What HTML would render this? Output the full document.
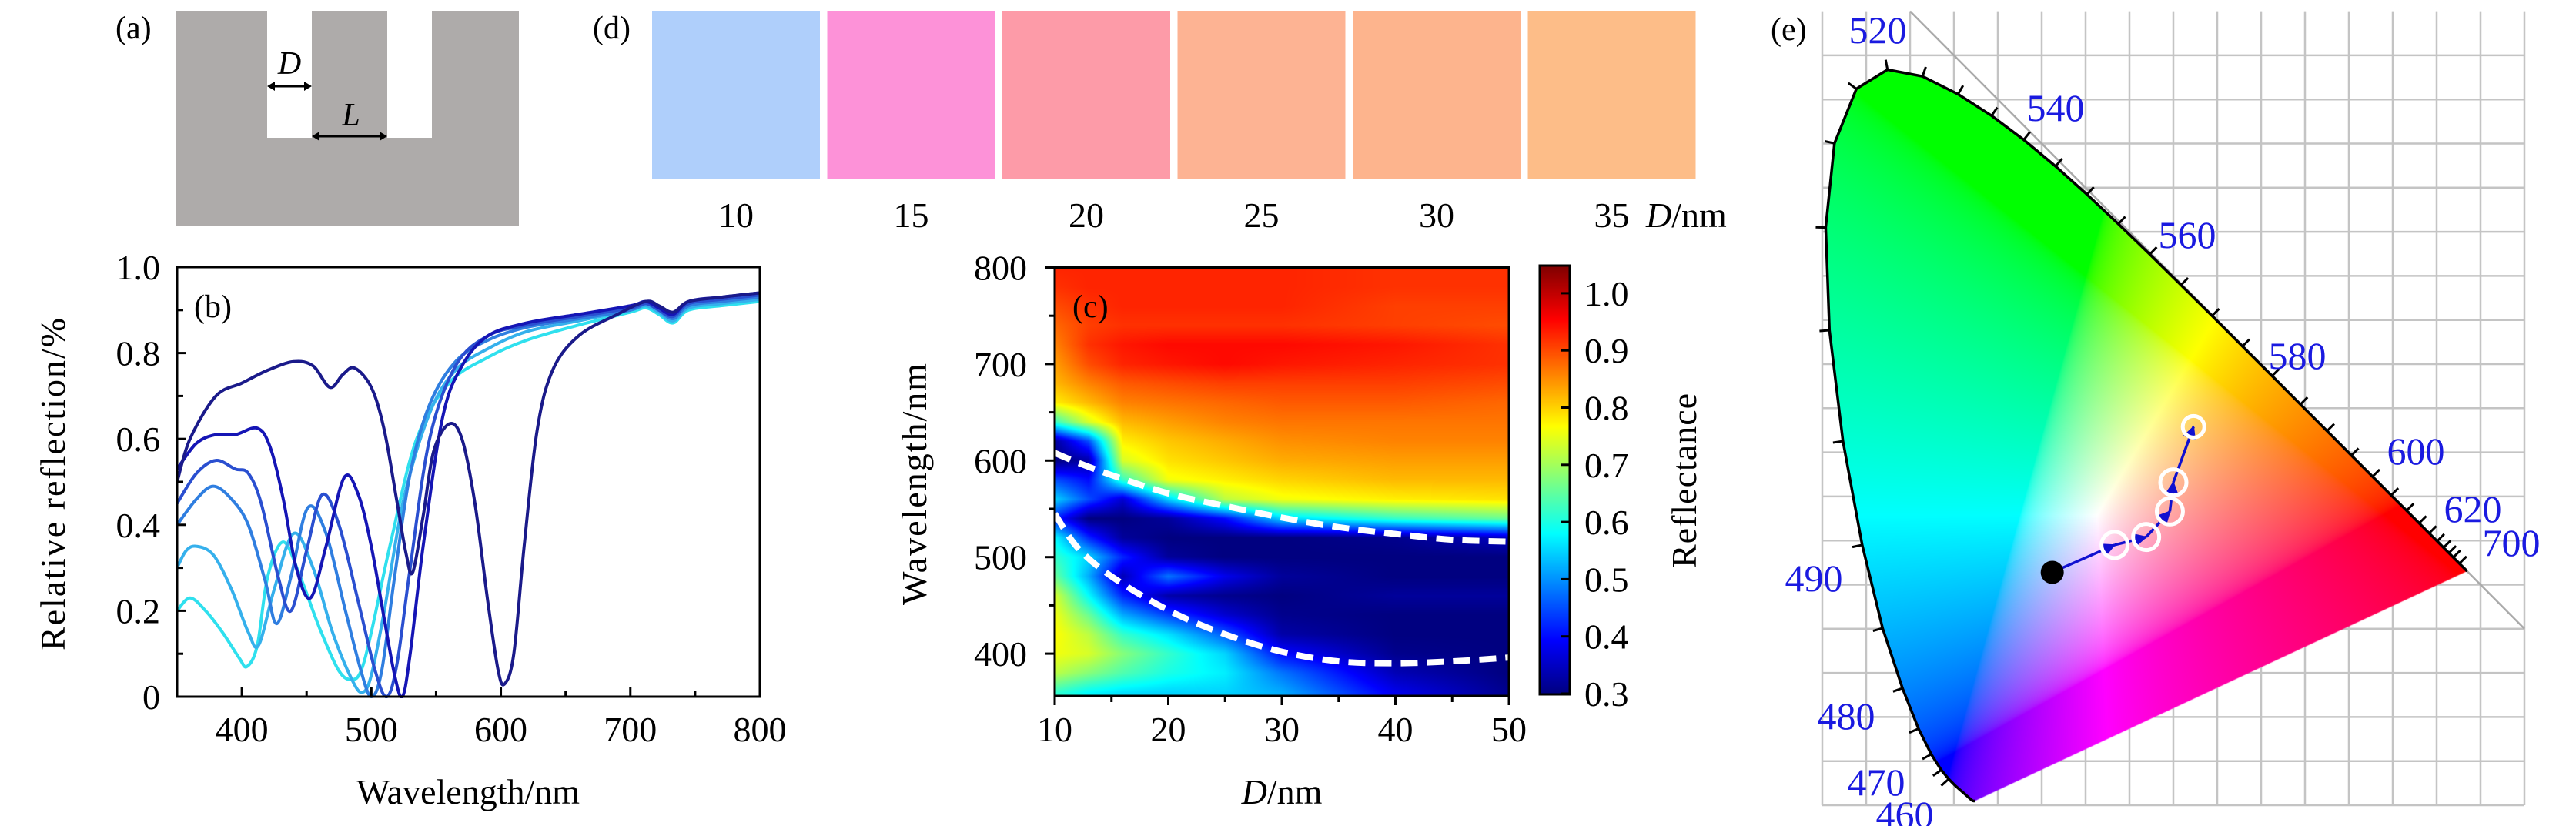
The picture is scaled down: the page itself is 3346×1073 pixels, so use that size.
<!DOCTYPE html>
<html><head><meta charset="utf-8">
<style>
html,body{margin:0;padding:0;background:#fff;}
#wrap{position:relative;width:3346px;height:1073px;overflow:hidden;background:#fff;}
svg,canvas{position:absolute;left:0;top:0;}
text{font-family:"Liberation Serif",serif;fill:#000;}
</style></head>
<body>
<div id="wrap">
<svg id="back" width="3346" height="1073"></svg>
<canvas id="cv" width="3346" height="1073"></canvas>
<svg id="front" width="3346" height="1073">
<defs>
<marker id="arr" viewBox="0 0 10 10" refX="9" refY="5" markerWidth="5" markerHeight="5" orient="auto"><path d="M0,0 L10,5 L0,10 z" fill="#1010d0"/></marker>
</defs>
<g>
<text x="150" y="50" font-size="42">(a)</text>
<path d="M228,14 H347 V179 H405 V14 H503 V179 H561 V14 H674 V293 H228 Z" fill="#aeabaa"/>
<g stroke="#000" stroke-width="3" fill="#000">
<line x1="352" y1="112" x2="400" y2="112"/>
<path d="M347,112 l10,-6 v12 z M405,112 l-10,-6 v12 z" stroke="none"/>
</g>
<text x="376" y="96" font-size="42" font-style="italic" text-anchor="middle">D</text>
<g stroke="#000" stroke-width="3" fill="#000">
<line x1="410" y1="177" x2="498" y2="177"/>
<path d="M405,177 l10,-6 v12 z M503,177 l-10,-6 v12 z" stroke="none"/>
</g>
<text x="456" y="163" font-size="42" font-style="italic" text-anchor="middle">L</text>
</g>
<g id="pd">
<text x="770" y="50" font-size="42">(d)</text>
</g>
<g id="pb"></g>
<g id="pc"></g>
<g id="pe"></g>
</svg>
</div>
<script>
const swatchD = [10,15,20,25,30,35];
const swatchColors = ["#afcffb","#fd92d8","#fd9ba8","#fdb393","#fdb48d","#fdbd88"];

const wlA = [350,360,380,400,420,440,455,468,478,487,500,510,520,527,532,540,548,560,570,580,590,598,603,610,618,628,640,660,690,712,722,733,745,770,800];
const rA  = [.50,.60,.70,.73,.76,.78,.77,.72,.75,.765,.72,.62,.45,.33,.29,.42,.57,.635,.60,.45,.22,.06,.03,.10,.35,.62,.76,.84,.89,.92,.91,.895,.92,.93,.94];
const wlB = [350,365,380,395,412,422,432,442,453,465,479,490,500,510,518,524,530,540,555,570,590,620,660,700,712,722,733,745,770,800];
const rB  = [.53,.59,.61,.61,.625,.58,.46,.30,.23,.35,.51,.47,.35,.18,.05,.0,.10,.35,.65,.77,.84,.87,.89,.91,.92,.905,.89,.92,.93,.94];
const wlC = [350,365,380,395,405,415,428,438,450,462,475,490,503,512,520,530,545,565,590,620,660,700,712,722,733,745,770,800];
const rC  = [.45,.52,.55,.53,.52,.45,.28,.20,.34,.47,.40,.22,.06,.0,.08,.30,.60,.77,.84,.865,.885,.905,.915,.90,.885,.915,.925,.935];
const wlD = [350,365,378,392,405,418,427,438,451,465,480,492,500,508,518,530,545,565,590,620,660,700,712,722,733,745,770,800];
const rD  = [.40,.46,.49,.46,.40,.27,.17,.28,.44,.38,.20,.06,.0,.06,.28,.52,.68,.78,.83,.86,.88,.90,.915,.90,.88,.91,.92,.93];
const wlE = [350,357,365,378,392,405,413,425,440,455,470,485,493,500,510,525,545,565,590,620,660,700,712,722,733,745,770,800];
const rE  = [.30,.34,.35,.33,.25,.15,.12,.25,.38,.30,.15,.04,.01,.05,.20,.46,.66,.76,.81,.85,.875,.90,.91,.895,.875,.905,.915,.925];
const wlF = [350,360,372,385,398,404,412,420,432,445,460,475,485,492,500,515,535,560,590,620,660,700,712,722,733,745,770,800];
const rF  = [.20,.23,.20,.15,.09,.07,.12,.28,.36,.28,.16,.06,.04,.06,.15,.36,.60,.73,.79,.83,.865,.895,.905,.89,.87,.90,.91,.92];
const seriesColors = ["#1a1a8a","#1515b5","#2a4fd0","#2f7ee0","#35b0ec","#2fe0ee"];
const bXTicks = [400,500,600,700,800];
const bYTicks = [0,0.2,0.4,0.6,0.8,1.0];
const bYLabels = ["0","0.2","0.4","0.6","0.8","1.0"];

const hD = [10,13,16,20,25,30,40,50];
const hW = [800,780,760,740,720,700,680,660,640,620,600,580,560,540,520,500,480,460,440,420,400,380,360];
const hV = [
[.93,.93,.93,.93,.93,.93,.92,.92],
[.92,.93,.93,.93,.93,.93,.92,.92],
[.90,.92,.93,.93,.93,.93,.91,.91],
[.88,.91,.92,.92,.92,.92,.91,.90],
[.86,.92,.94,.95,.95,.95,.94,.92],
[.84,.90,.93,.94,.95,.94,.93,.92],
[.82,.86,.89,.90,.91,.91,.91,.90],
[.78,.82,.86,.87,.88,.89,.89,.88],
[.62,.74,.82,.84,.86,.87,.87,.87],
[.32,.45,.78,.81,.83,.85,.86,.86],
[.30,.33,.74,.79,.81,.83,.84,.84],
[.45,.40,.62,.76,.78,.80,.82,.82],
[.55,.45,.36,.55,.72,.76,.78,.79],
[.42,.30,.30,.32,.40,.55,.62,.66],
[.58,.42,.32,.30,.30,.30,.31,.35],
[.62,.55,.42,.32,.30,.30,.30,.30],
[.66,.52,.34,.48,.38,.32,.30,.30],
[.74,.58,.42,.33,.31,.30,.32,.32],
[.76,.66,.52,.44,.36,.31,.30,.30],
[.77,.72,.62,.56,.46,.33,.30,.30],
[.76,.74,.68,.62,.55,.40,.31,.30],
[.72,.68,.64,.60,.57,.48,.34,.30],
[.62,.58,.56,.55,.55,.52,.38,.31]];
const dashD = [10,12,15,20,25,30,35,40,45,50];
const dashUpper = [608,598,585,566,553,541,531,524,518,516];
const dashLower = [545,510,480,445,420,402,392,390,392,396];
const cXTicks = [10,20,30,40,50];
const cYTicks = [400,500,600,700,800];
const cbTicks = [0.3,0.4,0.5,0.6,0.7,0.8,0.9,1.0];

const locWl = [380,390,400,410,420,425,430,435,440,445,450,455,460,465,470,475,480,485,490,495,500,505,510,515,520,525,530,535,540,545,550,555,560,565,570,575,580,585,590,595,600,605,610,615,620,625,630,635,640,650,660,680,700];
const locX = [.1741,.1738,.1733,.1726,.1714,.1703,.1689,.1669,.1644,.1611,.1566,.1510,.1440,.1355,.1241,.1096,.0913,.0687,.0454,.0235,.0082,.0039,.0139,.0389,.0743,.1142,.1547,.1929,.2296,.2658,.3016,.3373,.3731,.4087,.4441,.4788,.5125,.5448,.5752,.6029,.6270,.6482,.6658,.6801,.6915,.7006,.7079,.7140,.7190,.7260,.7300,.7334,.7347];
const locY = [.0050,.0049,.0048,.0048,.0051,.0058,.0069,.0086,.0109,.0138,.0177,.0227,.0297,.0399,.0578,.0868,.1327,.2007,.2950,.4127,.5384,.6548,.7502,.8120,.8338,.8262,.8059,.7816,.7543,.7243,.6923,.6589,.6245,.5896,.5547,.5202,.4866,.4544,.4242,.3965,.3725,.3514,.3340,.3197,.3083,.2993,.2920,.2859,.2809,.2740,.2700,.2666,.2653];
const cieLabels = ["520","540","560","580","600","620","700","490","480","470","460"];
const cieLabelPos = [[2439,56],[2670,157],[2841,322],[2984,479],[3138,603],[3212,678],[3262,722],[2356,768],[2398,947],[2437,1033],[2474,1075]];
const pointX = [0.262,0.333,0.369,0.396,0.400,0.423];
const pointY = [0.264,0.295,0.304,0.333,0.366,0.429];

const NS="http://www.w3.org/2000/svg";
function mk(parent,tag,attrs,txt){const e=document.createElementNS(NS,tag);for(const k in attrs)e.setAttribute(k,attrs[k]);if(txt!==undefined)e.textContent=txt;parent.appendChild(e);return e;}
function catmull(pts){let d="M"+pts[0][0].toFixed(1)+","+pts[0][1].toFixed(1);for(let i=0;i<pts.length-1;i++){const p0=pts[i-1]||pts[i],p1=pts[i],p2=pts[i+1],p3=pts[i+2]||p2;const c1=[p1[0]+(p2[0]-p0[0])/6,p1[1]+(p2[1]-p0[1])/6],c2=[p2[0]-(p3[0]-p1[0])/6,p2[1]-(p3[1]-p1[1])/6];d+="C"+c1[0].toFixed(1)+","+c1[1].toFixed(1)+" "+c2[0].toFixed(1)+","+c2[1].toFixed(1)+" "+p2[0].toFixed(1)+","+p2[1].toFixed(1);}return d;}
const FS=46;

const pd=document.getElementById('pd');
swatchD.forEach((d,i)=>{
  const x=847+i*227.5;
  const r=mk(pd,'rect',{x:x,y:14,width:218,height:218,fill:swatchColors[i]});
  
  
  const t=mk(pd,'text',{x:x+109,y:295,'font-size':FS,'text-anchor':'middle'},String(d));
  
  
});
{const t=mk(pd,'text',{x:2138,y:295,'font-size':FS},'');


mk(t,'tspan',{'font-style':'italic'},'D');mk(t,'tspan',{},'/nm');}

const pb=document.getElementById('pb');
const xb=w=>230+(w-350)/450*757, yb=r=>905-r*558;
const bSeries=[[wlA,rA],[wlB,rB],[wlC,rC],[wlD,rD],[wlE,rE],[wlF,rF]];
{const cp=mk(pb,'clipPath',{id:'clipb'});mk(cp,'rect',{x:230,y:345,width:757,height:562});}
const gb=mk(pb,'g',{'clip-path':'url(#clipb)'});
bSeries.slice().reverse().forEach((s,j)=>{
  const i=bSeries.length-1-j;
  const pts=s[0].map((w,k)=>[xb(w),yb(s[1][k])]);
  const p=mk(gb,'path',{d:catmull(pts),fill:'none',stroke:seriesColors[i],'stroke-width':4,'stroke-linejoin':'round'});
  
  
});
mk(pb,'rect',{x:230,y:347,width:757,height:558,fill:'none',stroke:'#000','stroke-width':3});
bXTicks.forEach(w=>{mk(pb,'line',{x1:xb(w),x2:xb(w),y1:905,y2:893,stroke:'#000','stroke-width':3});
  const t=mk(pb,'text',{x:xb(w),y:963,'font-size':FS,'text-anchor':'middle'},String(w));
  
  
  if(w<800) mk(pb,'line',{x1:xb(w+50),x2:xb(w+50),y1:905,y2:897,stroke:'#000','stroke-width':3});});
bYTicks.forEach((v,i)=>{mk(pb,'line',{x1:230,x2:242,y1:yb(v),y2:yb(v),stroke:'#000','stroke-width':3});
  if(v<1) mk(pb,'line',{x1:230,x2:238,y1:yb(v+0.1),y2:yb(v+0.1),stroke:'#000','stroke-width':3});
  const t=mk(pb,'text',{x:208,y:yb(v)+16,'font-size':FS,'text-anchor':'end'},bYLabels[i]);
  
  });
{let t=mk(pb,'text',{x:608,y:1044,'font-size':FS,'text-anchor':'middle'},'Wavelength/nm');
t=mk(pb,'text',{x:0,y:0,'font-size':FS,'text-anchor':'middle',transform:'translate(84,628) rotate(-90)','letter-spacing':'2'},'Relative reflection/%');
t=mk(pb,'text',{x:252,y:412,'font-size':42},'(b)');}

const cv=document.getElementById('cv'),ctx=cv.getContext('2d');
const xc=D=>1370+(D-10)/40*590, yc=w=>347.5+(800-w)*1.254;
function jet(t){t=Math.max(0,Math.min(1,t));const c=v=>Math.max(0,Math.min(1,v));return [c(1.5-Math.abs(4*t-3)),c(1.5-Math.abs(4*t-2)),c(1.5-Math.abs(4*t-1))];}
const vmin=0.3,vmax=1.05;
function interp(arr,v){
  const asc=arr[arr.length-1]>arr[0];
  for(let i=0;i<arr.length-1;i++){const a=arr[i],b=arr[i+1];if((asc&&v>=a&&v<=b)||(!asc&&v<=a&&v>=b))return i+(v-a)/(b-a);}
  return (asc?(v<arr[0]):(v>arr[0]))?0:arr.length-1;}
{
  const X0=1370,Y0=348,W=590,H=556;
  const img=ctx.createImageData(W,H);
  for(let py=0;py<H;py++){
    const w=800-(Y0+py+0.5-347.5)/1.254;
    const fi=interp(hW,w);const i0=Math.min(Math.floor(fi),hW.length-2),ft=fi-i0;
    for(let px=0;px<W;px++){
      const D=10+(X0+px+0.5-1370)/590*40;
      const fj=interp(hD,D);const j0=Math.min(Math.floor(fj),hD.length-2),fu=fj-j0;
      const v=(hV[i0][j0]*(1-fu)+hV[i0][j0+1]*fu)*(1-ft)+(hV[i0+1][j0]*(1-fu)+hV[i0+1][j0+1]*fu)*ft;
      const c=jet((v-vmin)/(vmax-vmin));const k=(py*W+px)*4;
      img.data[k]=c[0]*255;img.data[k+1]=c[1]*255;img.data[k+2]=c[2]*255;img.data[k+3]=255;}}
  ctx.putImageData(img,X0,Y0);
  const cb=ctx.createImageData(39,557);
  for(let py=0;py<557;py++){const v=1.05-(py/556)*0.75;const c=jet((v-vmin)/(vmax-vmin));
    for(let px=0;px<39;px++){const k=(py*39+px)*4;cb.data[k]=c[0]*255;cb.data[k+1]=c[1]*255;cb.data[k+2]=c[2]*255;cb.data[k+3]=255;}}
  ctx.putImageData(cb,2000,345);
}
const ex=x=>2367+1140*x, ey=y=>1046-1146*y;
{
  const bx0=2360,bx1=3240,by0=40,by1=1073,W=bx1-bx0,H=by1-by0;
  const off=document.createElement('canvas');off.width=W;off.height=H;
  const octx=off.getContext('2d');const img=octx.createImageData(W,H);
  const g=v=>v<=0.0031308?12.92*v:1.055*Math.pow(v,1/2.4)-0.055;
  for(let py=0;py<H;py++){const y=(1046-(by0+py))/1146;
    for(let px=0;px<W;px++){const x=(bx0+px-2367)/1140;
      const yy=Math.max(y,0.001);const X=x/yy,Y=1,Z=(1-x-yy)/yy;
      let R=3.2406*X-1.5372*Y-0.4986*Z,G=-0.9689*X+1.8758*Y+0.0415*Z,B=0.0557*X-0.2040*Y+1.0570*Z;
      R=Math.max(R,0);G=Math.max(G,0);B=Math.max(B,0);const m=Math.max(R,G,B,1e-6);
      const k=(py*W+px)*4;img.data[k]=g(R/m)*255;img.data[k+1]=g(G/m)*255;img.data[k+2]=g(B/m)*255;img.data[k+3]=255;}}
  octx.putImageData(img,0,0);
  ctx.save();ctx.beginPath();
  locX.forEach((x,i)=>{i?ctx.lineTo(ex(x),ey(locY[i])):ctx.moveTo(ex(x),ey(locY[i]));});
  ctx.closePath();ctx.clip();ctx.drawImage(off,bx0,by0);ctx.restore();
}

const pc=document.getElementById('pc');
{const cp=mk(pc,'clipPath',{id:'clipc'});mk(cp,'rect',{x:1370,y:348,width:590,height:556});}
const gc=mk(pc,'g',{'clip-path':'url(#clipc)'});
[[dashUpper,'upper'],[dashLower,'lower']].forEach(([arr,nm])=>{
  const pts=dashD.map((d,i)=>[xc(d),yc(arr[i])]);
  const p=mk(gc,'path',{d:catmull(pts),fill:'none',stroke:'#fff','stroke-width':8,'stroke-dasharray':'22,12'});
  
  
});
mk(pc,'rect',{x:1370,y:347.5,width:590,height:556.5,fill:'none',stroke:'#000','stroke-width':3});
cXTicks.forEach(d=>{mk(pc,'line',{x1:xc(d),x2:xc(d),y1:904,y2:916,stroke:'#000','stroke-width':3});
  if(d<50) mk(pc,'line',{x1:xc(d+5),x2:xc(d+5),y1:904,y2:912,stroke:'#000','stroke-width':3});
  const t=mk(pc,'text',{x:xc(d),y:963,'font-size':FS,'text-anchor':'middle'},String(d));
  
  });
cYTicks.forEach(w=>{mk(pc,'line',{x1:1358,x2:1370,y1:yc(w),y2:yc(w),stroke:'#000','stroke-width':3});
  if(w-50>356) mk(pc,'line',{x1:1362,x2:1370,y1:yc(w-50),y2:yc(w-50),stroke:'#000','stroke-width':3});
  const t=mk(pc,'text',{x:1334,y:yc(w)+16,'font-size':FS,'text-anchor':'end'},String(w));
  
  });
mk(pc,'rect',{x:2000,y:345,width:39,height:557,fill:'none',stroke:'#000','stroke-width':3,});
const ycb=v=>901-(v-0.3)/0.1*74.3;
cbTicks.forEach(v=>{mk(pc,'line',{x1:2027,x2:2039,y1:ycb(v),y2:ycb(v),stroke:'#000','stroke-width':3});
  const t=mk(pc,'text',{x:2058,y:ycb(v)+16,'font-size':FS},v.toFixed(1));
  
  });
{let t=mk(pc,'text',{x:1665,y:1044,'font-size':FS,'text-anchor':'middle'},'');
mk(t,'tspan',{'font-style':'italic'},'D');mk(t,'tspan',{},'/nm');
t=mk(pc,'text',{x:0,y:0,'font-size':FS,'text-anchor':'middle',transform:'translate(1203,628) rotate(-90)','letter-spacing':'2'},'Wavelength/nm');
t=mk(pc,'text',{x:0,y:0,'font-size':FS,'text-anchor':'middle',transform:'translate(2203,624) rotate(-90)','letter-spacing':'1'},'Reflectance');
t=mk(pc,'text',{x:1393,y:412,'font-size':42},'(c)');}

const back=document.getElementById('back');
for(let k=0;k<=16;k++){const x=k*0.05;mk(back,'line',{x1:ex(x),x2:ex(x),y1:ey(0.9),y2:ey(0),stroke:'#c4c4c4','stroke-width':2.5});}
for(let k=0;k<=17;k++){const y=k*0.05;mk(back,'line',{x1:ex(0),x2:ex(0.8),y1:ey(y),y2:ey(y),stroke:'#c4c4c4','stroke-width':2.5});}
mk(back,'line',{x1:ex(0.1),y1:ey(0.9),x2:ex(0.8),y2:ey(0.2),stroke:'#aaa','stroke-width':2.5,});
const pe=document.getElementById('pe');
{let d='';locX.forEach((x,i)=>{d+=(i?'L':'M')+ex(x).toFixed(1)+','+ey(locY[i]).toFixed(1);});
 const p=mk(pe,'path',{d:d,fill:'none',stroke:'#000','stroke-width':3.5});
 
 const wx=ex(0.3127),wy=ey(0.329);
 for(let i=1;i<locWl.length-1;i++){const w=locWl[i];if(w<460||w>650)continue;
   const x=ex(locX[i]),y=ey(locY[i]);let tx=ex(locX[i+1])-ex(locX[i-1]),ty=ey(locY[i+1])-ey(locY[i-1]);
   const L=Math.hypot(tx,ty);let nx=-ty/L,ny=tx/L;if((x-wx)*nx+(y-wy)*ny<0){nx=-nx;ny=-ny;}
   mk(pe,'line',{x1:x,y1:y,x2:x+nx*13,y2:y+ny*13,stroke:'#000','stroke-width':3});}
}
cieLabels.forEach((s,i)=>{const t=mk(pe,'text',{x:cieLabelPos[i][0],y:cieLabelPos[i][1],'font-size':50,'text-anchor':'middle',style:'fill:#1a1ae0'},s);
  
  });
{const t=mk(pe,'text',{x:2300,y:52,'font-size':42},'(e)');}
for(let i=0;i<pointX.length-1;i++){
  const x1=ex(pointX[i]),y1=ey(pointY[i]),x2=ex(pointX[i+1]),y2=ey(pointY[i+1]);
  const a=mk(pe,'line',{x1:x1,y1:y1,x2:x2,y2:y2,stroke:'#1010d0','stroke-width':3.5,'marker-end':'url(#arr)'});
  
  
}
{const c=mk(pe,'circle',{cx:ex(pointX[0]),cy:ey(pointY[0]),r:15,fill:'#000'});}
for(let i=1;i<pointX.length;i++){const c=mk(pe,'circle',{cx:ex(pointX[i]),cy:ey(pointY[i]),r:i==5?14:17,fill:'none',stroke:'#fff','stroke-width':5});
  
  }
</script>
</body></html>
